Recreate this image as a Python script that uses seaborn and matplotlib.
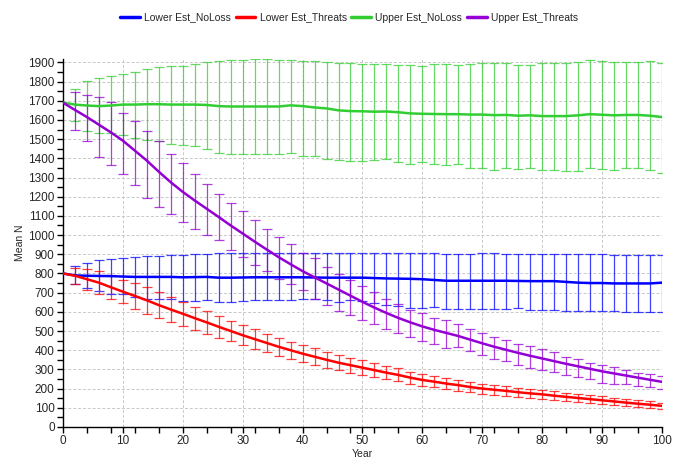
import numpy as np
import pandas as pd
import matplotlib
matplotlib.use("Agg")
import matplotlib.pyplot as plt
from matplotlib.ticker import MultipleLocator
import seaborn as sns

years = list(range(0, 101, 2))

series_names = ["Lower Est_NoLoss", "Lower Est_Threats", "Upper Est_NoLoss", "Upper Est_Threats"]
colors = ["#0000FF", "#FF0000", "#32CD32", "#9400D3"]

blue_mean = [800, 790, 788, 787, 786, 784, 782, 782, 782, 782, 780, 781, 782, 778, 778, 779, 780, 780, 780, 780,
             780, 779, 778, 778, 778, 778, 776, 774, 773, 772, 770, 766, 762, 762, 762, 762, 762, 762, 761, 760,
             760, 760, 756, 752, 750, 750, 748, 748, 748, 748, 752]
blue_hi = [800, 839, 854, 868, 877, 878, 885, 890, 890, 898, 898, 900, 903, 908, 906, 906, 905, 905, 906, 906,
           906, 906, 905, 905, 905, 905, 905, 905, 905, 905, 906, 906, 903, 903, 903, 905, 905, 903, 903, 902,
           902, 902, 900, 900, 900, 900, 898, 898, 898, 898, 898]
blue_lo = [800, 745, 726, 708, 695, 692, 677, 668, 668, 665, 656, 656, 663, 649, 651, 656, 663, 664, 660, 660,
           668, 668, 660, 651, 660, 656, 647, 634, 629, 622, 622, 625, 617, 614, 617, 617, 617, 617, 622, 611,
           611, 611, 604, 603, 603, 603, 603, 600, 600, 600, 600]

red_mean = [800, 788, 770, 752, 728, 705, 683, 660, 635, 612, 590, 567, 545, 522, 500, 478, 458, 438, 418, 400,
            382, 366, 350, 335, 322, 309, 296, 283, 271, 257, 245, 236, 226, 218, 208, 200, 194, 188, 181, 175,
            170, 163, 157, 151, 145, 139, 133, 127, 121, 116, 110]
red_lo = [800, 746, 715, 692, 666, 645, 615, 590, 567, 546, 527, 507, 487, 466, 446, 426, 408, 390, 371, 355,
          338, 323, 309, 295, 283, 271, 260, 248, 237, 225, 214, 206, 197, 190, 181, 174, 168, 163, 157, 152,
          148, 141, 136, 131, 125, 119, 114, 109, 103, 99, 93]
red_hi = [800, 830, 825, 812, 790, 765, 751, 730, 703, 678, 653, 627, 603, 578, 554, 530, 508, 486, 465, 445,
          426, 409, 391, 375, 361, 347, 332, 318, 305, 289, 276, 266, 255, 246, 235, 226, 220, 213, 205, 198,
          192, 185, 178, 171, 165, 159, 152, 145, 139, 133, 127]

green_mean = [1690, 1680, 1675, 1672, 1675, 1680, 1680, 1682, 1682, 1680, 1680, 1680, 1678, 1672, 1670, 1670,
              1670, 1670, 1670, 1676, 1672, 1665, 1660, 1650, 1646, 1645, 1643, 1644, 1640, 1634, 1632, 1631,
              1630, 1630, 1628, 1628, 1625, 1626, 1622, 1624, 1620, 1620, 1620, 1624, 1630, 1627, 1624, 1626,
              1626, 1622, 1615]
green_lo = [1690, 1592, 1540, 1531, 1531, 1523, 1505, 1497, 1488, 1476, 1471, 1462, 1450, 1429, 1424, 1424,
            1420, 1424, 1424, 1428, 1410, 1410, 1394, 1389, 1385, 1385, 1389, 1394, 1382, 1372, 1380, 1368,
            1366, 1368, 1352, 1352, 1340, 1352, 1344, 1352, 1340, 1340, 1335, 1335, 1349, 1344, 1340, 1352,
            1349, 1340, 1325]
green_hi = [1690, 1759, 1805, 1820, 1828, 1840, 1849, 1866, 1875, 1882, 1882, 1893, 1900, 1905, 1913, 1913,
            1918, 1918, 1913, 1913, 1906, 1906, 1901, 1898, 1898, 1893, 1893, 1893, 1887, 1884, 1882, 1893,
            1893, 1887, 1893, 1898, 1898, 1898, 1887, 1887, 1898, 1898, 1898, 1901, 1910, 1906, 1901, 1901,
            1901, 1906, 1898]

purple_mean = [1690, 1652, 1615, 1575, 1535, 1492, 1440, 1388, 1330, 1275, 1225, 1180, 1137, 1094, 1050, 1008,
               966, 925, 885, 848, 812, 780, 748, 716, 684, 652, 622, 594, 568, 545, 524, 506, 490, 474, 455,
               436, 418, 402, 386, 371, 357, 343, 329, 316, 303, 290, 279, 268, 257, 246, 235]
purple_lo = [1690, 1549, 1491, 1406, 1367, 1320, 1262, 1193, 1146, 1108, 1068, 1033, 1002, 972, 920, 886,
             846, 811, 770, 747, 715, 669, 634, 603, 582, 556, 535, 510, 490, 469, 446, 434, 413, 417, 396,
             373, 356, 344, 321, 309, 299, 286, 273, 260, 252, 229, 222, 222, 214, 208, 196]
purple_hi = [1690, 1745, 1731, 1722, 1693, 1637, 1592, 1544, 1488, 1424, 1375, 1320, 1268, 1214, 1169, 1125,
             1080, 1031, 990, 951, 908, 882, 833, 799, 764, 733, 703, 669, 639, 608, 594, 570, 556, 535, 512,
             490, 469, 455, 434, 420, 408, 391, 365, 356, 335, 325, 312, 299, 283, 278, 266]

means = [blue_mean, red_mean, green_mean, purple_mean]
los = [blue_lo, red_lo, green_lo, purple_lo]
his = [blue_hi, red_hi, green_hi, purple_hi]

rows = []
for name, m in zip(series_names, means):
    for y, v in zip(years, m):
        rows.append({"Year": y, "Mean N": v, "Series": name})
df = pd.DataFrame(rows)

sns.set_theme(style="white")
plt.rcParams["font.family"] = ["Liberation Sans", "DejaVu Sans"]

fig = plt.figure(figsize=(6.75, 4.61), dpi=100)
ax = fig.add_axes([0.0933, 0.0738, 0.8874, 0.798])

# error bars
for name, c, m, lo, hi in zip(series_names, colors, means, los, his):
    m_arr = np.array(m[1:], dtype=float)
    lo_arr = np.array(lo[1:], dtype=float)
    hi_arr = np.array(hi[1:], dtype=float)
    yerr = np.vstack([m_arr - lo_arr, hi_arr - m_arr])
    ax.errorbar(years[1:], m_arr, yerr=yerr, fmt="none", ecolor=c, elinewidth=0.9,
                capsize=3.5, capthick=0.9, alpha=0.75, zorder=2)

sns.lineplot(data=df, x="Year", y="Mean N", hue="Series", hue_order=series_names,
             palette=dict(zip(series_names, colors)), linewidth=1.8, ax=ax, zorder=3,
             legend=True)

handles, labels = ax.get_legend_handles_labels()
ax.get_legend().remove()
for h in handles:
    h.set_linewidth(2.5)
fig.legend(handles, labels, loc="center", bbox_to_anchor=(0.517, 0.962), ncol=4, frameon=False,
           fontsize=7.5, handlelength=1.9, columnspacing=0.45, handletextpad=0.4)

ax.set_xlim(0, 100)
ax.set_ylim(0, 1917)
ax.xaxis.set_major_locator(MultipleLocator(10))
ax.xaxis.set_minor_locator(MultipleLocator(4))
ax.yaxis.set_major_locator(MultipleLocator(100))
ax.yaxis.set_minor_locator(MultipleLocator(50))
ax.grid(True, which="major", color="#c8c8c8", linestyle=(0, (3, 2)), linewidth=0.7)
ax.set_axisbelow(True)
for s in ["top", "right"]:
    ax.spines[s].set_visible(False)
for s in ["left", "bottom"]:
    ax.spines[s].set_color("black")
    ax.spines[s].set_linewidth(1.0)
ax.tick_params(axis="both", which="major", direction="out", length=4, width=1, color="black",
               labelsize=8.5, pad=2, left=True, bottom=True)
ax.tick_params(axis="both", which="minor", direction="out", length=4, width=1, color="black",
               left=True, bottom=True)
ax.set_xlabel("Year", fontsize=7.5, labelpad=1)
ax.set_ylabel("Mean N", fontsize=7.5, labelpad=2)

fig.savefig("out.png", dpi=100)
